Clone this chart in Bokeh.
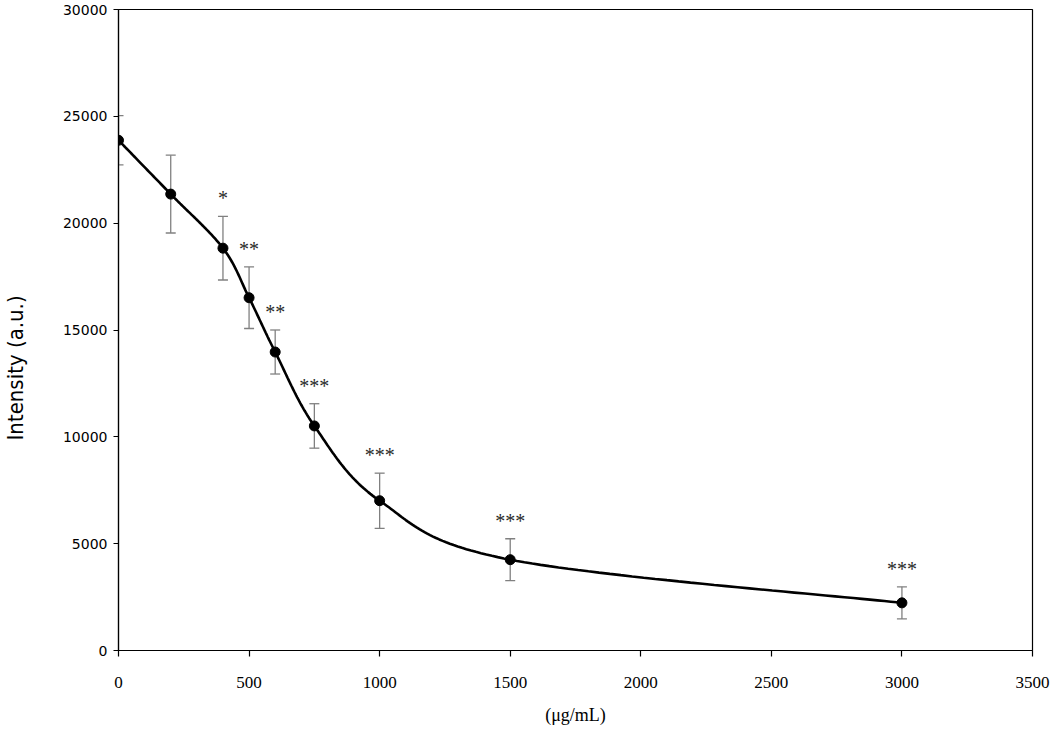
import numpy as np
from bokeh.plotting import figure
from bokeh.models import ColumnDataSource, Whisker, FixedTicker, Range1d, LabelSet, Title
from bokeh.embed import file_html
from bokeh.resources import INLINE
from bokeh.core.properties import value

# ---- data ----
conc = [0, 200, 400, 500, 600, 750, 1000, 1500, 3000]
intensity = [23880, 21360, 18830, 16510, 13970, 10510, 7010, 4250, 2230]
err = [1150, 1820, 1490, 1440, 1030, 1040, 1290, 980, 750]
stars = ["", "", "*", "**", "**", "***", "***", "***", "***"]
x_ticks = [0, 500, 1000, 1500, 2000, 2500, 3000, 3500]
y_ticks = [0, 5000, 10000, 15000, 20000, 25000, 30000]

X_MAX, Y_MAX = 3500, 30000
FW, FH = 914, 641  # frame size in px (used to smooth the line in screen-like space)

# smooth (Excel-like) curve through the measured points, Catmull-Rom in normalized space
xs = np.array(conc, float) / X_MAX * FW
ys = np.array(intensity, float) / Y_MAX * FH
P = np.column_stack([xs, ys])
Pp = np.vstack([P[0], P, P[-1]])
curve = []
for i in range(1, len(Pp) - 2):
    p0, p1, p2, p3 = Pp[i - 1], Pp[i], Pp[i + 1], Pp[i + 2]
    for t in np.linspace(0, 1, 40, endpoint=False):
        t2, t3 = t * t, t * t * t
        pt = 0.5 * ((2 * p1) + (-p0 + p2) * t + (2 * p0 - 5 * p1 + 4 * p2 - p3) * t2 + (-p0 + 3 * p1 - 3 * p2 + p3) * t3)
        curve.append(pt)
curve.append(P[-1])
curve = np.array(curve)
cx = curve[:, 0] / FW * X_MAX
cy = curve[:, 1] / FH * Y_MAX

upper = [v + e for v, e in zip(intensity, err)]
lower = [v - e for v, e in zip(intensity, err)]
src = ColumnDataSource(dict(x=conc, y=intensity, upper=upper, lower=lower, stars=stars))

p = figure(width=1050, height=729, output_backend="svg", toolbar_location=None,
           x_range=Range1d(0, X_MAX), y_range=Range1d(0, Y_MAX),
           min_border_left=118, min_border_right=18, min_border_top=9, min_border_bottom=79)
p.xgrid.visible = False
p.ygrid.visible = False
p.outline_line_color = "black"
p.outline_line_width = 1.2
p.background_fill_color = "white"
p.border_fill_color = "white"

# error bars
wh = Whisker(source=src, base="x", upper="upper", lower="lower",
             line_color="#808080", line_width=1.3)
wh.upper_head.size = 10
wh.lower_head.size = 10
wh.upper_head.line_color = "#808080"
wh.lower_head.line_color = "#808080"
wh.upper_head.line_width = 1.3
wh.lower_head.line_width = 1.3
p.add_layout(wh)

p.line(cx, cy, line_color="black", line_width=2.6)
p.scatter("x", "y", source=src, size=10, fill_color="black", line_color="black")

labels = LabelSet(x="x", y="upper", text="stars", source=src, text_align="center",
                  text_baseline="middle", y_offset=18, text_font=value("Liberation Serif"),
                  text_font_size="20px", text_color="#2a2a2a")
p.add_layout(labels)

# axes
p.xaxis.ticker = FixedTicker(ticks=x_ticks)
p.yaxis.ticker = FixedTicker(ticks=y_ticks)
for ax in (p.xaxis[0], p.yaxis[0]):
    ax.axis_line_color = "black"
    ax.axis_line_width = 1.2
    ax.major_tick_line_color = "black"
    ax.major_tick_line_width = 1.2
    ax.major_tick_in = 0
    ax.minor_tick_line_color = None
    ax.major_label_text_color = "black"
p.xaxis.major_tick_out = 6
p.yaxis.major_tick_out = 5
p.xaxis.major_label_text_font = "Liberation Serif"
p.xaxis.major_label_text_font_size = "17px"
p.xaxis.major_label_text_line_height = 1.0
p.xaxis.major_label_standoff = 20
p.yaxis.major_label_text_font = "DejaVu Sans"
p.yaxis.major_label_text_font_size = "14px"
p.yaxis.major_label_standoff = 6

p.xaxis.axis_label = "(\u03bcg/mL)"
p.xaxis.axis_label_text_font = "Liberation Serif"
p.xaxis.axis_label_text_font_size = "18px"
p.xaxis.axis_label_text_font_style = "normal"
p.xaxis.axis_label_text_line_height = 1.0
p.xaxis.axis_label_standoff = 14
p.xaxis.axis_label_text_color = "black"

# spacer on the y axis so the title sits at the far left, as in the reference
p.yaxis.axis_label = "\u00a0"
p.yaxis.axis_label_text_font_size = "2px"
p.yaxis.axis_label_standoff = 26

ytitle = Title(text="Intensity (a.u.)", align="left", offset=210, vertical_align="middle",
               standoff=0, text_font="'DejaVu Sans Condensed', 'Liberation Sans', sans-serif",
               text_font_size="22px", text_font_style="normal", text_color="black")
p.add_layout(ytitle, "left")

open("out.html", "w").write(file_html(p, INLINE))
